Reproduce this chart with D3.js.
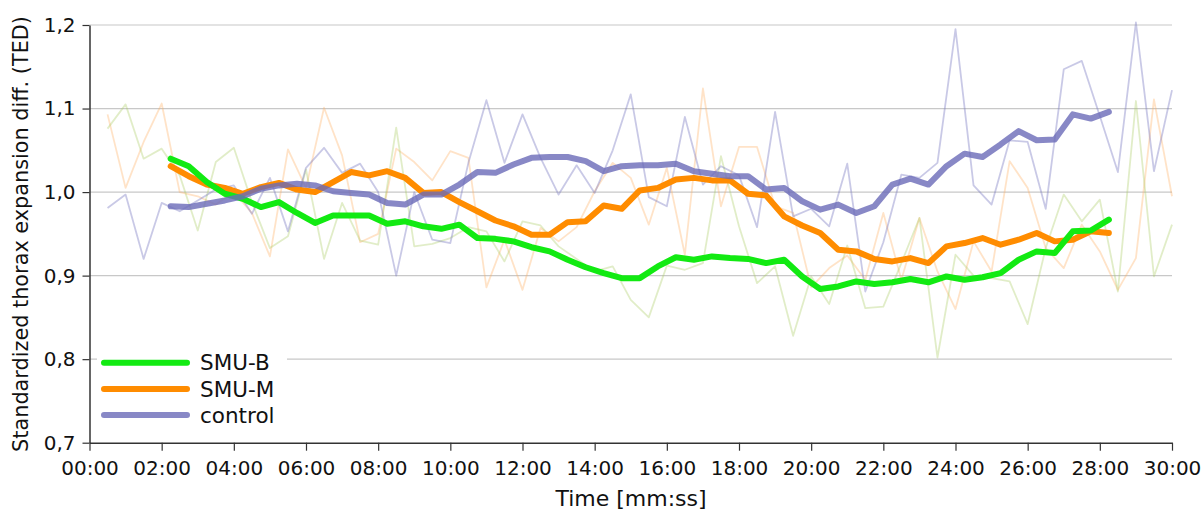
<!DOCTYPE html>
<html>
<head>
<meta charset="utf-8">
<script src="https://cdn.jsdelivr.net/npm/d3@7"></script>
<style>
  html, body { margin: 0; padding: 0; background: #fff; }
  svg { display: block; font-family: "DejaVu Sans", Verdana, sans-serif; }
</style>
</head>
<body>
<svg id="chart" width="1204" height="511"></svg>
<script>
// Sampling times in minutes: raw values every 30 s, smoothed values centred between samples
const rawTimes = d3.range(1, 61).map(k => k * 0.5);          // 0:30 … 30:00
const smoothTimes = d3.range(0, 53).map(k => 2.25 + k * 0.5); // 2:15 … 28:15

// Raw per-interval values
const rawSMUB = [1.076, 1.105, 1.040, 1.052, 1.020, 0.954, 1.036, 1.053, 0.988, 0.933,
  0.947, 1.027, 0.920, 0.987, 0.942, 0.937, 1.077, 0.935, 0.938, 0.945,
  0.958, 0.953, 0.917, 0.965, 0.960, 0.935, 0.920, 0.905, 0.911, 0.871,
  0.850, 0.912, 0.907, 0.915, 1.043, 0.959, 0.891, 0.911, 0.828, 0.899,
  0.866, 0.936, 0.861, 0.863, 0.915, 0.969, 0.802, 0.925, 0.900, 0.897,
  0.893, 0.842, 0.933, 0.997, 0.965, 0.991, 0.881, 1.109, 0.899, 0.961];
const rawSMUM = [1.093, 1.005, 1.060, 1.106, 1.000, 0.995, 0.985, 1.000, 0.975, 0.923,
  1.051, 1.005, 1.101, 1.044, 0.940, 0.950, 1.052, 1.036, 1.014, 1.049,
  1.041, 0.886, 0.943, 0.883, 0.957, 0.941, 0.958, 1.001, 1.035, 1.017,
  0.961, 1.029, 0.925, 1.124, 0.983, 1.054, 1.054, 0.983, 0.975, 0.886,
  0.909, 0.924, 0.895, 0.975, 0.895, 0.969, 0.905, 0.860, 0.941, 0.905,
  1.037, 1.005, 0.933, 0.909, 0.961, 0.929, 0.883, 0.921, 1.111, 0.995];
const rawControl = [0.981, 0.997, 0.920, 0.987, 0.977, 0.990, 1.003, 1.008, 0.974, 1.017,
  0.953, 1.029, 1.053, 1.023, 1.034, 1.000, 0.900, 1.000, 0.943, 0.939,
  1.035, 1.110, 1.035, 1.093, 1.041, 0.997, 1.032, 0.999, 1.050, 1.117,
  0.994, 0.983, 1.090, 1.009, 1.031, 1.020, 0.958, 1.096, 0.971, 0.980,
  0.959, 1.034, 0.881, 0.940, 1.021, 1.017, 1.035, 1.195, 1.008, 0.985,
  1.062, 1.060, 0.980, 1.147, 1.157, 1.091, 1.024, 1.203, 1.025, 1.122];

// Smoothed (moving average) values
const smoothSMUB = [1.040, 1.031, 1.012, 0.998, 0.992, 0.982, 0.988, 0.975, 0.963, 0.972,
  0.972, 0.972, 0.962, 0.965, 0.959, 0.956, 0.961, 0.945, 0.944, 0.941,
  0.934, 0.929, 0.919, 0.910, 0.903, 0.897, 0.897, 0.911, 0.922, 0.919,
  0.923, 0.921, 0.920, 0.915, 0.919, 0.899, 0.884, 0.887, 0.893, 0.890,
  0.892, 0.896, 0.892, 0.899, 0.895, 0.898, 0.903, 0.919, 0.929, 0.927,
  0.953, 0.954, 0.967];
const smoothSMUM = [1.031, 1.019, 1.009, 1.005, 0.998, 1.006, 1.011, 1.003, 1.000, 1.012,
  1.024, 1.020, 1.025, 1.017, 0.999, 1.000, 0.988, 0.977, 0.966, 0.959,
  0.949, 0.949, 0.964, 0.965, 0.984, 0.980, 1.002, 1.005, 1.015, 1.017,
  1.014, 1.014, 0.998, 0.996, 0.971, 0.960, 0.951, 0.931, 0.929, 0.920,
  0.917, 0.921, 0.915, 0.935, 0.939, 0.945, 0.937, 0.943, 0.951, 0.941,
  0.943, 0.953, 0.951];
const smoothControl = [0.983, 0.982, 0.986, 0.990, 0.995, 1.004, 1.008, 1.010, 1.008, 1.001,
  0.999, 0.997, 0.987, 0.985, 0.997, 0.997, 1.009, 1.024, 1.023, 1.033,
  1.041, 1.042, 1.042, 1.037, 1.025, 1.031, 1.032, 1.032, 1.034, 1.025,
  1.022, 1.019, 1.019, 1.003, 1.005, 0.989, 0.979, 0.985, 0.975, 0.983,
  1.009, 1.016, 1.009, 1.031, 1.046, 1.042, 1.057, 1.073, 1.062, 1.063,
  1.093, 1.088, 1.096];

const seriesNames = ["SMU-B", "SMU-M", "control"];
const yTicks = [0.7, 0.8, 0.9, 1.0, 1.1, 1.2];
const xTicks = d3.range(0, 31, 2);

const colors = { "SMU-B": "#12ea12", "SMU-M": "#ff8c00", "control": "#6a6ab8" };
const rawColors = { "SMU-B": "#a8cc60", "SMU-M": "#ffb060", "control": "#7878c0" };

const svg = d3.select("#chart");
const margin = { left: 89.5, right: 1172, top: 25, bottom: 442.7 };

const x = d3.scaleLinear().domain([0, 30]).range([margin.left, margin.right]);
const y = d3.scaleLinear().domain([0.7, 1.2]).range([margin.bottom, margin.top]);

// Horizontal grid
svg.append("g").selectAll("line").data(yTicks.slice(1)).join("line")
  .attr("x1", margin.left).attr("x2", margin.right)
  .attr("y1", d => y(d)).attr("y2", d => y(d))
  .attr("stroke", "#c8c8c8").attr("stroke-width", 1.2);

const line = d3.line().x(d => x(d[0])).y(d => y(d[1]));

// Raw series (thin, faint)
const raw = [["SMU-M", rawSMUM, 0.35], ["SMU-B", rawSMUB, 0.35], ["control", rawControl, 0.4]];
raw.forEach(([name, vals, op]) => {
  svg.append("path")
    .datum(rawTimes.map((t, i) => [t, vals[i]]))
    .attr("d", line)
    .attr("fill", "none")
    .attr("stroke", rawColors[name])
    .attr("stroke-opacity", op)
    .attr("stroke-width", 1.8)
    .attr("stroke-linejoin", "round");
});

// Smoothed series (thick)
const smooth = [["SMU-M", smoothSMUM, 1], ["SMU-B", smoothSMUB, 1], ["control", smoothControl, 0.8]];
smooth.forEach(([name, vals, op]) => {
  svg.append("path")
    .datum(smoothTimes.map((t, i) => [t, vals[i]]))
    .attr("d", line)
    .attr("fill", "none")
    .attr("stroke", colors[name])
    .attr("stroke-opacity", op)
    .attr("stroke-width", 6)
    .attr("stroke-linejoin", "round")
    .attr("stroke-linecap", "round");
});

// Axes
const fmt = m => String(m).padStart(2, "0") + ":00";
const xAxis = svg.append("g")
  .attr("transform", `translate(0,${margin.bottom})`)
  .call(d3.axisBottom(x).tickValues(xTicks).tickFormat(fmt).tickSize(8).tickSizeOuter(0).tickPadding(10));
const yAxis = svg.append("g")
  .attr("transform", `translate(${margin.left},0)`)
  .call(d3.axisLeft(y).tickValues(yTicks).tickFormat(d => d3.format(".1f")(d).replace(".", ",")).tickSize(7).tickSizeOuter(0).tickPadding(7));

[xAxis, yAxis].forEach(g => {
  g.selectAll("path.domain").attr("stroke", "#333").attr("stroke-width", 1.5);
  g.selectAll(".tick line").attr("stroke", "#333").attr("stroke-width", 1.2);
  g.selectAll(".tick text").attr("fill", "#111").style("font-size", "20px")
    .style("font-family", "'DejaVu Sans', sans-serif");
});

// Axis titles
svg.append("text")
  .attr("x", 631).attr("y", 506)
  .attr("text-anchor", "middle").attr("fill", "#111")
  .style("font-size", "22px")
  .text("Time [mm:ss]");
svg.append("text")
  .attr("transform", `translate(28,234) rotate(-90)`)
  .attr("text-anchor", "middle").attr("fill", "#111")
  .style("font-size", "20.8px")
  .text("Standardized thorax expansion diff. (TED)");

// Legend
const legend = svg.append("g");
legend.append("rect")
  .attr("x", 97).attr("y", 342).attr("width", 190).attr("height", 96)
  .attr("fill", "#fff");
seriesNames.forEach((name, i) => {
  const ly = 362.7 + i * 26.2;
  legend.append("line")
    .attr("x1", 104).attr("x2", 187).attr("y1", ly).attr("y2", ly)
    .attr("stroke", colors[name]).attr("stroke-opacity", name === "control" ? 0.8 : 1)
    .attr("stroke-width", 6).attr("stroke-linecap", "round");
  legend.append("text")
    .attr("x", 200).attr("y", ly).attr("dy", "0.36em")
    .attr("fill", "#111").style("font-size", "21.5px")
    .text(name);
});
</script>
</body>
</html>
